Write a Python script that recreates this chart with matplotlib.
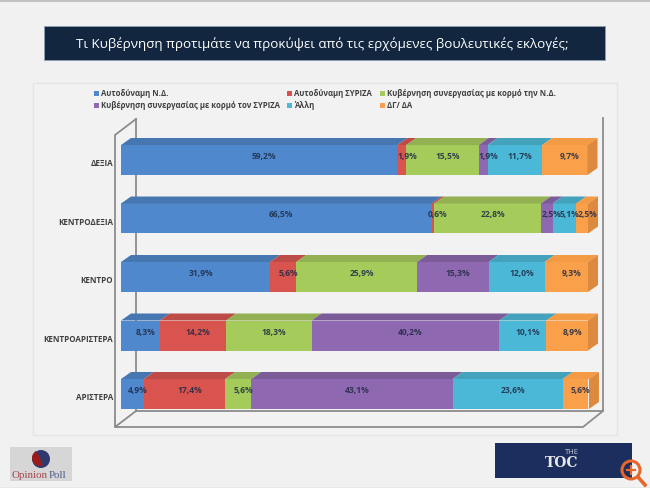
import matplotlib
matplotlib.use('Agg')
import matplotlib.pyplot as plt
from matplotlib.patches import Polygon, Rectangle, Circle, Wedge
import numpy as np

plt.rcParams['font.family'] = ['Open Sans', 'DejaVu Sans']

title = 'Τι Κυβέρνηση προτιμάτε να προκύψει από τις ερχόμενες βουλευτικές εκλογές;'
categories = ['ΔΕΞΙΑ', 'ΚΕΝΤΡΟΔΕΞΙΑ', 'ΚΕΝΤΡΟ', 'ΚΕΝΤΡΟΑΡΙΣΤΕΡΑ', 'ΑΡΙΣΤΕΡΑ']
series_names = ['Αυτοδύναμη Ν.Δ.', 'Αυτοδύναμη ΣΥΡΙΖΑ', 'Κυβέρνηση συνεργασίας με κορμό την Ν.Δ.',
                'Κυβέρνηση συνεργασίας με κορμό τον ΣΥΡΙΖΑ', 'Άλλη', 'ΔΓ/ ΔΑ']
nd = [59.2, 66.5, 31.9, 8.3, 4.9]
syriza = [1.9, 0.6, 5.6, 14.2, 17.4]
co_nd = [15.5, 22.8, 25.9, 18.3, 5.6]
co_syriza = [1.9, 2.5, 15.3, 40.2, 43.1]
other = [11.7, 5.1, 12.0, 10.1, 23.6]
dk = [9.7, 2.5, 9.3, 8.9, 5.6]
series = [nd, syriza, co_nd, co_syriza, other, dk]
colors = ['#4f88cc', '#d9534f', '#a5cc5a', '#8e68b0', '#4cb8d8', '#fba04a']
top_colors = ['#4677b0', '#bd4b48', '#93b052', '#7b5c99', '#44a2bd', '#f39a45']
side_color = '#dd8a3e'

W, H = 650, 488
BG = '#f1f1f1'
fig = plt.figure(figsize=(W / 100, H / 100), dpi=100, facecolor=BG)

# page furniture in pixel coordinates
deco = fig.add_axes([0, 0, 1, 1])
deco.set_xlim(0, W)
deco.set_ylim(H, 0)
deco.axis('off')
deco.plot([0, W], [0.5, 0.5], color='#b8b8b8', lw=1.2)
deco.plot([0, W], [487.5, 487.5], color='#c4c4c4', lw=1)
deco.add_patch(Rectangle((44, 26), 561, 34, fc='#12263f', ec='#8c9db5', lw=0.6))
deco.text(322.5, 44.5, title, color='white', fontsize=9.6, ha='center', va='center')
deco.add_patch(Rectangle((33, 83), 584, 352, fc='#f2f2f2', ec='#e4e4e4', lw=1))

# 3d walls and floor
wall = dict(color='#8c8c8c', lw=1.3, solid_joinstyle='miter')
deco.plot([136, 115, 115, 136], [119, 135, 427, 411], **wall)
deco.plot([136, 136], [119, 411], **wall)
deco.plot([136, 603, 603], [411, 411, 118], **wall)
deco.plot([115, 583, 603], [427, 427, 411], **wall)

# chart axes: x 0-100 maps onto the front plane of the bars
y_top, y_step, bar_h = 160.0, 58.5, 30.0
left, right = 121.0, 588.0
ax = fig.add_axes([left / W, 0, (right - left) / W, 1], zorder=2)
ax.set_xlim(0, 100)
ax.set_ylim((H - y_top) / y_step, -y_top / y_step)
ax.patch.set_alpha(0)
ax.axis('off')
ypos = np.arange(len(categories))
dx = 10 * 100 / (right - left)
dy = 7 / y_step
h = bar_h / y_step

left_edge = np.zeros(len(categories))
for vals, c, tc in zip(series, colors, top_colors):
    ax.barh(ypos, vals, height=h, left=left_edge, color=c, linewidth=0, zorder=3)
    for y, v, l in zip(ypos, vals, left_edge):
        top = y - h / 2
        ax.add_patch(Polygon([(l, top), (l + v, top), (l + v + dx, top - dy), (l + dx, top - dy)],
                             fc=tc, lw=0, zorder=3, clip_on=False))
    left_edge = left_edge + np.array(vals)

# right end faces belong to the last series
for y, total in zip(ypos, left_edge):
    t, b = y - h / 2, y + h / 2
    ax.add_patch(Polygon([(total, t), (total + dx, t - dy), (total + dx, b - dy), (total, b)],
                         fc=side_color, lw=0, zorder=3, clip_on=False))

left_edge = np.zeros(len(categories))
for vals in series:
    for y, v, l in zip(ypos, vals, left_edge):
        ax.text(l + v / 2 + dx / 2, y - dy / 2, f'{v:.1f}%'.replace('.', ','), ha='center', va='center',
                fontsize=6.1, fontweight='bold', color='#1f2a44', alpha=0.85, zorder=5, clip_on=False)
    left_edge = left_edge + np.array(vals)

for y, name in zip(ypos, categories):
    ax.text(-1.7, y + 0.06, name, ha='right', va='center', fontsize=5.8, fontweight='bold', color='#404040',
            zorder=5)

# legend laid out by hand, three columns and two rows
legend_x = [94, 287, 380]
legend_y = [93, 105]
for i, (name, c) in enumerate(zip(series_names, colors)):
    col = i % 3
    row = i // 3
    lx, ly = legend_x[col], legend_y[row]
    deco.add_patch(Rectangle((lx, ly - 2.5), 5, 5, fc=c, lw=0))
    deco.text(lx + 7, ly, name, fontsize=5.6, fontweight='bold', va='center', color='#404040')

# logos
deco.add_patch(Rectangle((10, 447), 62, 34, fc='#d6d6d6', lw=0))
deco.add_patch(Circle((41, 459), 9, fc='#2e3a6e', lw=0))
deco.add_patch(Wedge((40, 458), 8, 70, 240, fc='#9c1a1a', lw=0))
deco.text(12, 475, 'Opinion', fontsize=7.8, family='Liberation Serif', color='#a8434a', va='center')
deco.text(48.5, 475, 'Poll', fontsize=7.8, family='Liberation Serif', color='#4a5a85', va='center')
deco.add_patch(Rectangle((495, 443), 137, 35, fc='#1c2e5e', lw=0))
deco.text(572, 452.5, 'THE', fontsize=5.5, color='#c8cdd8', ha='center', va='center')
deco.text(562, 463, 'TOC', fontsize=10, family='DejaVu Serif', color='#e8e8e8', ha='center', va='center',
          fontweight='bold')

# zoom icon from the page
deco.add_patch(Circle((631, 470), 9, fc='none', ec='#e8662a', lw=2.2))
deco.plot([638, 645], [477, 485], color='#e8662a', lw=2.6)
deco.plot([627, 635], [470, 470], color='#e8662a', lw=1.6)
deco.plot([631, 631], [466, 474], color='#e8662a', lw=1.6)

fig.savefig('out.png', dpi=100, facecolor=BG)
